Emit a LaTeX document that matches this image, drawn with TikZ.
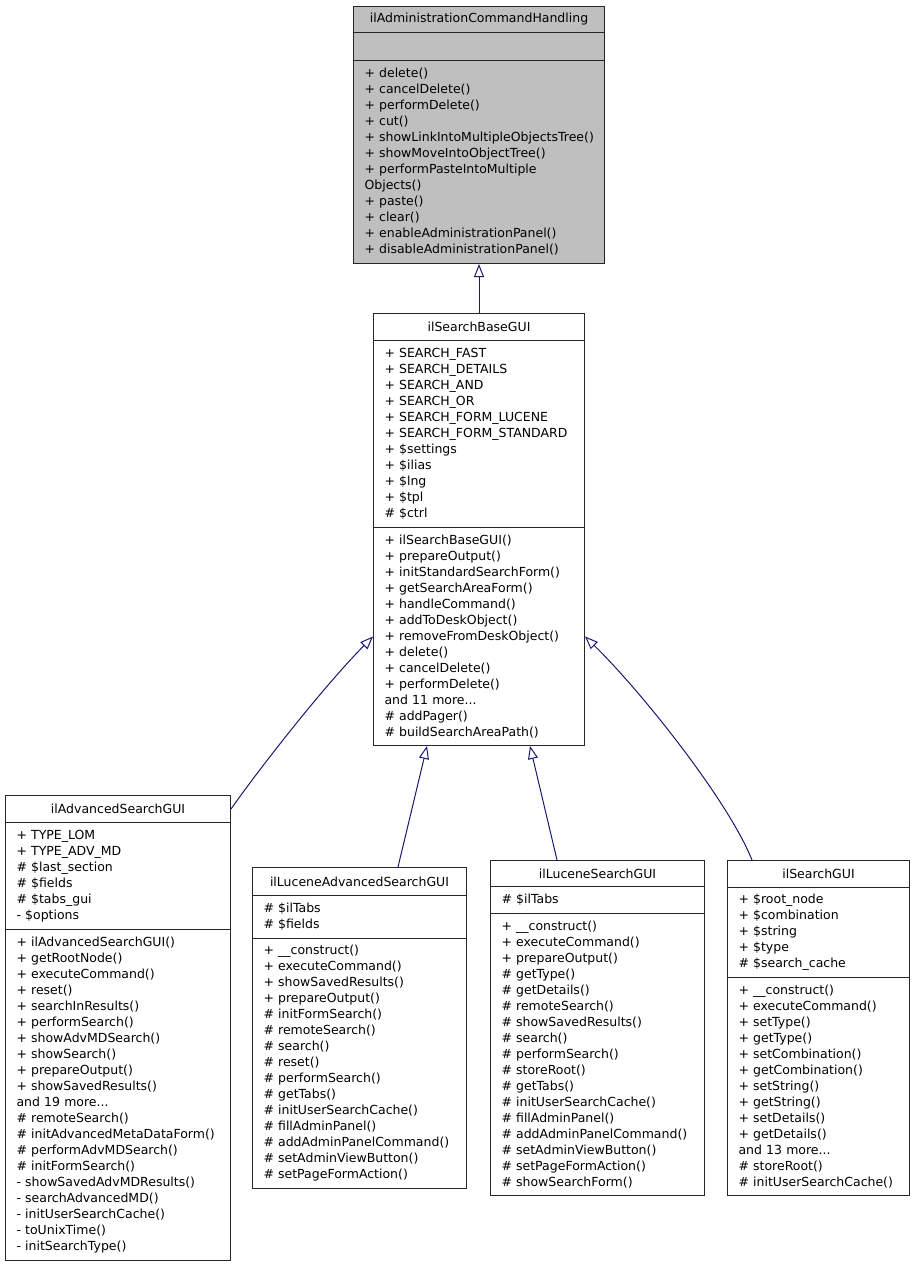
\documentclass[tikz,border=0pt]{standalone}
\usepackage{fontspec}
\setmainfont{DejaVu Sans}
\usepackage{tikz}
\usetikzlibrary{arrows.meta}
\definecolor{edgeblue}{HTML}{191970}
\definecolor{basegray}{HTML}{BFBFBF}
\newcommand{\umlfont}{\fontsize{12.5}{16}\selectfont\hbadness=10000\hfuzz=20pt}
\tikzset{
	cls/.style={draw=black!85, line width=1pt, anchor=north west, inner xsep=11pt, inner ysep=0pt, align=left, font=\umlfont},
	clstitle/.style={cls, align=center},
	inherit/.style={draw=edgeblue, line width=1pt, -{Triangle[open, length=13pt, width=10pt]}},
}

\begin{document}
\begin{tikzpicture}[x=1pt, y=-1pt]
	\useasboundingbox (0,0) rectangle (915,1267);
	\node[clstitle, fill=basegray, minimum width=251pt, minimum height=26pt] (adm) at (353,6) {ilAdministrationCommandHandling};
	\node[cls, fill=basegray, text width=229pt, minimum height=28pt] (admA) at (353,32) {};
	\node[cls, fill=basegray, text width=229pt, minimum height=203pt] (admM) at (353,60) {+ delete()\\+ cancelDelete()\\+ performDelete()\\+ cut()\\\mbox{+ showLinkIntoMultipleObjectsTree()}\\+ showMoveIntoObjectTree()\\+ performPasteIntoMultiple\\Objects()\\+ paste()\\+ clear()\\+ enableAdministrationPanel()\\+ disableAdministrationPanel()};
	\node[clstitle, minimum width=211pt, minimum height=27pt] (base) at (373,313) {ilSearchBaseGUI};
	\node[cls, text width=189pt, minimum height=187pt] (baseA) at (373,340) {+ SEARCH\_FAST\\+ SEARCH\_DETAILS\\+ SEARCH\_AND\\+ SEARCH\_OR\\+ SEARCH\_FORM\_LUCENE\\+ SEARCH\_FORM\_STANDARD\\+ \$settings\\+ \$ilias\\+ \$lng\\+ \$tpl\\\# \$ctrl};
	\node[cls, text width=189pt, minimum height=218pt] (baseM) at (373,527) {+ ilSearchBaseGUI()\\+ prepareOutput()\\+ initStandardSearchForm()\\+ getSearchAreaForm()\\+ handleCommand()\\+ addToDeskObject()\\+ removeFromDeskObject()\\+ delete()\\+ cancelDelete()\\+ performDelete()\\and 11 more...\\\# addPager()\\\# buildSearchAreaPath()};
	\node[clstitle, minimum width=225pt, minimum height=27pt] (adv) at (5,795) {ilAdvancedSearchGUI};
	\node[cls, text width=203pt, minimum height=107pt] (advA) at (5,822) {+ TYPE\_LOM\\+ TYPE\_ADV\_MD\\\# \$last\_section\\\# \$fields\\\# \$tabs\_gui\\- \$options};
	\node[cls, text width=203pt, minimum height=331pt] (advM) at (5,929) {+ ilAdvancedSearchGUI()\\+ getRootNode()\\+ executeCommand()\\+ reset()\\+ searchInResults()\\+ performSearch()\\+ showAdvMDSearch()\\+ showSearch()\\+ prepareOutput()\\+ showSavedResults()\\and 19 more...\\\# remoteSearch()\\\# initAdvancedMetaDataForm()\\\# performAdvMDSearch()\\\# initFormSearch()\\- showSavedAdvMDResults()\\- searchAdvancedMD()\\- initUserSearchCache()\\- toUnixTime()\\- initSearchType()};
	\node[clstitle, minimum width=214pt, minimum height=28pt] (lucadv) at (252,867) {ilLuceneAdvancedSearchGUI};
	\node[cls, text width=192pt, minimum height=43pt] (lucadvA) at (252,895) {\# \$ilTabs\\\# \$fields};
	\node[cls, text width=192pt, minimum height=250pt] (lucadvM) at (252,938) {+ \_\_construct()\\+ executeCommand()\\+ showSavedResults()\\+ prepareOutput()\\\# initFormSearch()\\\# remoteSearch()\\\# search()\\\# reset()\\\# performSearch()\\\# getTabs()\\\# initUserSearchCache()\\\# fillAdminPanel()\\\# addAdminPanelCommand()\\\# setAdminViewButton()\\\# setPageFormAction()};
	\node[clstitle, minimum width=214pt, minimum height=26pt] (lucs) at (490,860) {ilLuceneSearchGUI};
	\node[cls, text width=192pt, minimum height=27pt] (lucsA) at (490,886) {\# \$ilTabs};
	\node[cls, text width=192pt, minimum height=282pt] (lucsM) at (490,913) {+ \_\_construct()\\+ executeCommand()\\+ prepareOutput()\\\# getType()\\\# getDetails()\\\# remoteSearch()\\\# showSavedResults()\\\# search()\\\# performSearch()\\\# storeRoot()\\\# getTabs()\\\# initUserSearchCache()\\\# fillAdminPanel()\\\# addAdminPanelCommand()\\\# setAdminViewButton()\\\# setPageFormAction()\\\# showSearchForm()};
	\node[clstitle, minimum width=182pt, minimum height=27pt] (sgui) at (727,860) {ilSearchGUI};
	\node[cls, text width=160pt, minimum height=90pt] (sguiA) at (727,887) {+ \$root\_node\\+ \$combination\\+ \$string\\+ \$type\\\# \$search\_cache};
	\node[cls, text width=160pt, minimum height=218pt] (sguiM) at (727,977) {+ \_\_construct()\\+ executeCommand()\\+ setType()\\+ getType()\\+ setCombination()\\+ getCombination()\\+ setString()\\+ getString()\\+ setDetails()\\+ getDetails()\\and 13 more...\\\# storeRoot()\\\# initUserSearchCache()};
	\draw[inherit] (base.north) -- (admM.south);
	\draw[inherit] (adv.east) .. controls (262,765) and (325,685) .. (baseM.west);
	\draw[inherit] ([xshift=146pt]lucadv.north west) -- ([xshift=54pt]baseM.south west);
	\draw[inherit] ([xshift=67pt]lucs.north west) -- ([xshift=157pt]baseM.south west);
	\draw[inherit] ([xshift=25pt]sgui.north west) .. controls (728,800) and (640,690) .. (baseM.east);
\end{tikzpicture}
\end{document}
